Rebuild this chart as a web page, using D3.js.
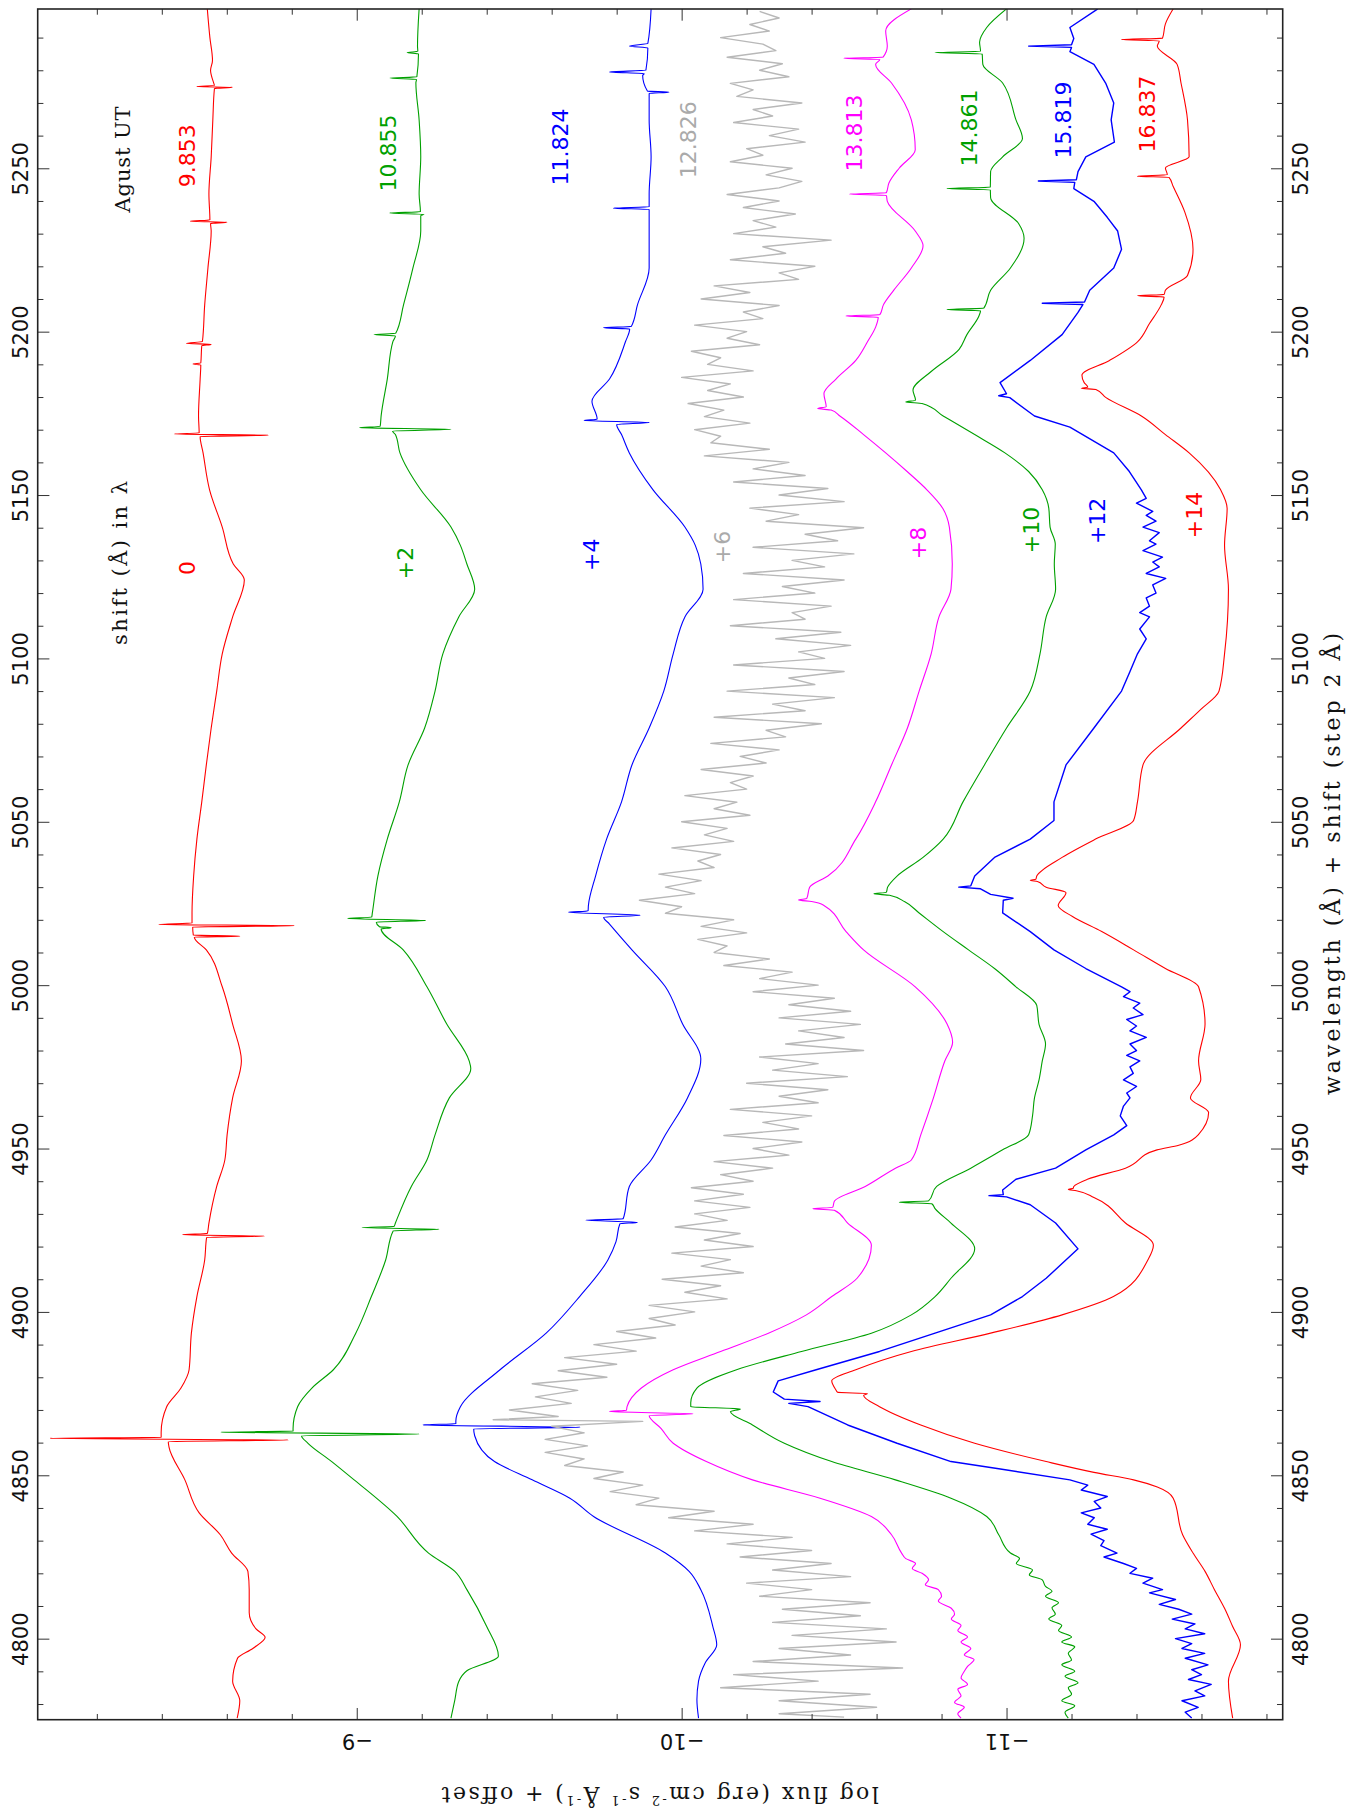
<!DOCTYPE html>
<html>
<head>
<meta charset="utf-8">
<script src="https://cdn.jsdelivr.net/npm/d3@7"></script>
<style>
  body { margin: 0; background: #fff; }
  svg { display: block; }
</style>
</head>
<body>
<svg id="chart" width="1360" height="1812"></svg>
<script>
// observation dates (August UT) and wavelength shifts, one per spectrum
const dates = ["9.853", "10.855", "11.824", "12.826", "13.813", "14.861", "15.819", "16.837"];
const shifts = ["0", "+2", "+4", "+6", "+8", "+10", "+12", "+14"];

// each spectrum: [wavelength + shift (A), log flux + offset]
const spec0 = [[5298.8,-8.540],[5290,-8.548],[5283,-8.556],[5280,-8.550],[5276.0,-8.560],[5275.3,-8.562],[5275.0,-8.508],[5274.8,-8.618],[5274.4,-8.562],[5264.8,-8.557],[5253.5,-8.552],[5242.1,-8.545],[5234.2,-8.548],[5233.8,-8.488],[5233.5,-8.601],[5233.1,-8.550],[5230.8,-8.552],[5219.5,-8.542],[5208.2,-8.532],[5197,-8.525],[5196.4,-8.476],[5196.1,-8.552],[5195.7,-8.523],[5190.4,-8.520],[5190.1,-8.496],[5189.8,-8.520],[5185.5,-8.518],[5174.2,-8.513],[5169.0,-8.515],[5168.7,-8.439],[5168.3,-8.728],[5167.9,-8.518],[5162.9,-8.527],[5151.6,-8.547],[5140.2,-8.586],[5128.9,-8.620],[5124.0,-8.654],[5112.7,-8.618],[5101.4,-8.586],[5090.0,-8.569],[5078.7,-8.552],[5067.4,-8.537],[5056.1,-8.523],[5044.7,-8.508],[5033.4,-8.498],[5022.1,-8.493],[5019.0,-8.493],[5018.6,-8.391],[5018.2,-8.808],[5017.8,-8.495],[5015.3,-8.497],[5015.0,-8.640],[5014.7,-8.500],[5010.8,-8.537],[4999.5,-8.586],[4988.1,-8.618],[4976.8,-8.645],[4965.5,-8.618],[4954.2,-8.601],[4946.5,-8.594],[4938.4,-8.569],[4927.2,-8.545],[4924.0,-8.540],[4923.6,-8.464],[4923.2,-8.716],[4922.8,-8.538],[4915.9,-8.532],[4904.7,-8.508],[4893.5,-8.491],[4882.3,-8.484],[4876.7,-8.459],[4871.0,-8.415],[4863.2,-8.398],[4861.6,-8.398],[4861.3,-8.056],[4860.8,-8.789],[4860.3,-8.420],[4858.7,-8.422],[4848.6,-8.471],[4838.5,-8.515],[4831.8,-8.580],[4826.2,-8.615],[4820.6,-8.665],[4815.0,-8.669],[4808.0,-8.669],[4803.0,-8.690],[4800.4,-8.718],[4797.0,-8.680],[4794.0,-8.633],[4787.0,-8.618],[4781.0,-8.640],[4775.7,-8.632]];

const spec2 = [[5298.8,-9.192],[5287.4,-9.187],[5285.8,-9.188],[5285.4,-9.155],[5285.0,-9.190],[5278.0,-9.185],[5277.6,-9.102],[5277.2,-9.184],[5276.1,-9.182],[5264.8,-9.192],[5253.5,-9.197],[5242.1,-9.192],[5236.7,-9.196],[5236.3,-9.102],[5235.9,-9.207],[5235.5,-9.197],[5230.8,-9.197],[5219.5,-9.173],[5208.2,-9.144],[5199.5,-9.120],[5199.1,-9.053],[5198.7,-9.119],[5196.9,-9.111],[5185.5,-9.094],[5174.2,-9.075],[5171.0,-9.072],[5170.6,-9.009],[5170.1,-9.290],[5169.6,-9.110],[5168.5,-9.119],[5162.9,-9.133],[5151.6,-9.197],[5140.2,-9.290],[5134.6,-9.319],[5128.9,-9.339],[5121.2,-9.363],[5112.7,-9.314],[5101.4,-9.265],[5090.0,-9.241],[5078.7,-9.209],[5067.4,-9.158],[5056.1,-9.131],[5044.7,-9.094],[5033.4,-9.065],[5022.1,-9.048],[5020.8,-9.046],[5020.4,-8.972],[5019.8,-9.212],[5019.3,-9.060],[5017.9,-9.070],[5017.6,-9.106],[5017.2,-9.075],[5010.8,-9.143],[4999.5,-9.216],[4988.1,-9.277],[4976.8,-9.346],[4974.5,-9.351],[4965.5,-9.285],[4954.2,-9.241],[4946.5,-9.216],[4938.4,-9.168],[4927.2,-9.119],[4926.2,-9.115],[4925.8,-9.016],[4925.3,-9.253],[4924.8,-9.112],[4915.9,-9.089],[4904.7,-9.045],[4893.5,-8.997],[4882.3,-8.928],[4876.7,-8.862],[4871.0,-8.818],[4864.3,-8.804],[4863.5,-8.804],[4863.2,-8.582],[4862.6,-9.192],[4862.1,-8.830],[4859.8,-8.850],[4854.2,-8.923],[4848.6,-8.992],[4837.4,-9.124],[4826.2,-9.221],[4820.6,-9.302],[4815.0,-9.339],[4803.7,-9.400],[4794.7,-9.436],[4790.2,-9.339],[4786.9,-9.314],[4781.3,-9.302],[4775.7,-9.290]];

const spec4 = [[5298.8,-9.906],[5288.2,-9.896],[5287.4,-9.839],[5286.8,-9.896],[5280,-9.890],[5279.5,-9.778],[5279.0,-9.885],[5278.4,-9.880],[5273.6,-9.895],[5273.3,-9.961],[5272.9,-9.900],[5264.8,-9.900],[5253.5,-9.906],[5242.1,-9.900],[5238.2,-9.900],[5237.8,-9.790],[5237.4,-9.900],[5230.8,-9.900],[5219.5,-9.900],[5208.2,-9.864],[5201.6,-9.845],[5201.2,-9.759],[5200.8,-9.840],[5196.9,-9.827],[5185.5,-9.778],[5178.7,-9.724],[5173.2,-9.740],[5172.8,-9.700],[5172.2,-9.900],[5171.6,-9.800],[5168.5,-9.815],[5162.9,-9.839],[5151.6,-9.912],[5140.2,-10.010],[5134.6,-10.042],[5128.9,-10.059],[5121.2,-10.066],[5112.7,-10.010],[5101.4,-9.974],[5090.0,-9.945],[5078.7,-9.900],[5067.4,-9.847],[5056.1,-9.815],[5044.7,-9.769],[5033.4,-9.735],[5024.4,-9.713],[5022.7,-9.712],[5022.3,-9.652],[5021.4,-9.872],[5020.8,-9.760],[5018.7,-9.778],[5010.8,-9.847],[4999.5,-9.950],[4988.1,-10.003],[4977.4,-10.059],[4965.5,-10.018],[4954.2,-9.950],[4946.5,-9.906],[4938.4,-9.839],[4928.5,-9.820],[4928.1,-9.705],[4927.4,-9.864],[4927.0,-9.810],[4921.5,-9.798],[4915.9,-9.773],[4904.7,-9.686],[4893.5,-9.583],[4882.3,-9.441],[4871.0,-9.319],[4866.6,-9.305],[4865.8,-9.305],[4865.4,-9.204],[4864.7,-9.688],[4864.2,-9.360],[4862.1,-9.363],[4854.2,-9.424],[4848.6,-9.540],[4843.0,-9.656],[4837.4,-9.729],[4826.2,-9.950],[4820.6,-10.023],[4815.0,-10.059],[4803.7,-10.096],[4798.1,-10.108],[4792.5,-10.072],[4787.0,-10.052],[4781.3,-10.047],[4775.7,-10.052]];

const spec6 = [[5298,-10.24],[5296,-10.30],[5294,-10.21],[5292,-10.27],[5290,-10.12],[5288,-10.25],[5286,-10.29],[5284,-10.14],[5282,-10.31],[5280,-10.24],[5278,-10.33],[5276,-10.15],[5274,-10.22],[5272,-10.17],[5270,-10.37],[5268,-10.22],[5266,-10.28],[5264,-10.16],[5262,-10.36],[5260,-10.27],[5258,-10.38],[5256,-10.20],[5254,-10.25],[5252,-10.15],[5250,-10.34],[5248,-10.26],[5246,-10.37],[5244,-10.30],[5242,-10.14],[5240,-10.30],[5238,-10.19],[5236,-10.35],[5234,-10.22],[5232,-10.29],[5230,-10.16],[5228,-10.46],[5226,-10.25],[5224,-10.32],[5222,-10.15],[5220,-10.41],[5218,-10.30],[5216,-10.36],[5214,-10.10],[5212,-10.21],[5210,-10.06],[5208,-10.30],[5206,-10.19],[5204,-10.25],[5202,-10.04],[5200,-10.20],[5198,-10.14],[5196,-10.24],[5194,-10.03],[5192,-10.12],[5190,-10.08],[5188,-10.22],[5186,-10.00],[5184,-10.15],[5182,-10.08],[5180,-10.19],[5178,-10.02],[5176,-10.13],[5174,-10.07],[5172,-10.21],[5170,-10.04],[5168,-10.12],[5166,-10.09],[5164,-10.27],[5162,-10.07],[5160,-10.33],[5158,-10.22],[5156,-10.38],[5154,-10.16],[5152,-10.45],[5150,-10.30],[5148,-10.50],[5146,-10.21],[5144,-10.36],[5142,-10.26],[5140,-10.56],[5138,-10.38],[5136,-10.48],[5134,-10.22],[5132,-10.53],[5130,-10.34],[5128,-10.44],[5126,-10.19],[5124,-10.50],[5122,-10.31],[5120,-10.41],[5118,-10.16],[5116,-10.46],[5114,-10.34],[5112,-10.38],[5110,-10.15],[5108,-10.49],[5106,-10.29],[5104,-10.52],[5102,-10.36],[5100,-10.44],[5098,-10.16],[5096,-10.50],[5094,-10.33],[5092,-10.41],[5090,-10.14],[5088,-10.47],[5086,-10.28],[5084,-10.38],[5082,-10.10],[5080,-10.43],[5078,-10.26],[5076,-10.32],[5074,-10.09],[5072,-10.30],[5070,-10.18],[5068,-10.26],[5066,-10.06],[5064,-10.22],[5062,-10.15],[5060,-10.20],[5058,-10.01],[5056,-10.17],[5054,-10.10],[5052,-10.21],[5050,-10.00],[5048,-10.14],[5046,-10.07],[5044,-10.16],[5042,-9.97],[5040,-10.12],[5038,-10.05],[5036,-10.10],[5034,-9.93],[5032,-10.06],[5030,-9.95],[5028,-10.04],[5026,-9.87],[5024,-10.00],[5022,-9.95],[5020,-10.16],[5018,-10.06],[5016,-10.20],[5014,-10.05],[5012,-10.14],[5010,-10.10],[5008,-10.27],[5006,-10.13],[5004,-10.34],[5002,-10.24],[5000,-10.42],[4998,-10.22],[4996,-10.47],[4994,-10.33],[4992,-10.52],[4990,-10.30],[4988,-10.55],[4986,-10.36],[4984,-10.50],[4982,-10.32],[4980,-10.56],[4978,-10.24],[4976,-10.42],[4974,-10.28],[4972,-10.51],[4970,-10.20],[4968,-10.45],[4966,-10.30],[4964,-10.42],[4962,-10.15],[4960,-10.40],[4958,-10.25],[4956,-10.36],[4954,-10.13],[4952,-10.37],[4950,-10.22],[4948,-10.33],[4946,-10.10],[4944,-10.28],[4942,-10.12],[4940,-10.22],[4938,-10.03],[4936,-10.19],[4934,-10.04],[4932,-10.21],[4930,-10.04],[4928,-10.14],[4926,-9.98],[4924,-10.18],[4922,-10.07],[4920,-10.22],[4918,-9.97],[4916,-10.15],[4914,-10.06],[4912,-10.19],[4910,-9.94],[4908,-10.12],[4906,-10.01],[4904,-10.14],[4902,-9.90],[4900,-10.04],[4898,-9.90],[4896,-9.98],[4894,-9.80],[4892,-9.92],[4890,-9.73],[4888,-9.86],[4886,-9.64],[4884,-9.80],[4882,-9.62],[4880,-9.77],[4878,-9.54],[4876,-9.68],[4874,-9.55],[4872,-9.66],[4870,-9.47],[4868,-9.62],[4867,-9.42],[4866.5,-9.88],[4865,-9.60],[4863,-9.70],[4861,-9.58],[4859,-9.71],[4857,-9.58],[4855,-9.70],[4853,-9.64],[4851,-9.82],[4849,-9.73],[4847,-9.88],[4845,-9.78],[4843,-9.93],[4841,-9.86],[4839,-10.10],[4837,-9.96],[4835,-10.22],[4833,-10.04],[4831,-10.34],[4829,-10.14],[4827,-10.40],[4825,-10.18],[4823,-10.46],[4821,-10.28],[4819,-10.52],[4817,-10.20],[4815,-10.40],[4813,-10.24],[4811,-10.58],[4809,-10.31],[4807,-10.55],[4805,-10.28],[4803,-10.63],[4801,-10.34],[4799,-10.66],[4797,-10.30],[4795,-10.52],[4793,-10.22],[4791,-10.68],[4789,-10.16],[4787,-10.42],[4785,-10.12],[4783,-10.58],[4781,-10.30],[4779,-10.60],[4777,-10.30],[4776,-10.50]];

const spec8 = [[5298.8,-10.707],[5292.0,-10.628],[5287.4,-10.633],[5284.0,-10.620],[5283.7,-10.499],[5283.3,-10.610],[5281.8,-10.597],[5276.1,-10.646],[5264.8,-10.707],[5255.7,-10.719],[5250.1,-10.670],[5245.5,-10.638],[5242.5,-10.630],[5242.1,-10.516],[5241.7,-10.630],[5239.9,-10.633],[5230.8,-10.719],[5226.3,-10.743],[5219.5,-10.707],[5212.7,-10.653],[5208.2,-10.621],[5205.2,-10.610],[5204.8,-10.506],[5204.4,-10.605],[5201.4,-10.597],[5196.9,-10.572],[5191.2,-10.536],[5185.5,-10.475],[5181.0,-10.438],[5177.0,-10.445],[5176.5,-10.419],[5176.0,-10.460],[5174.2,-10.487],[5168.5,-10.560],[5162.9,-10.628],[5157.2,-10.694],[5151.6,-10.755],[5145.9,-10.804],[5140.2,-10.824],[5128.9,-10.833],[5121.2,-10.829],[5112.7,-10.792],[5101.4,-10.768],[5090.0,-10.731],[5078.7,-10.695],[5067.4,-10.646],[5056.1,-10.597],[5044.7,-10.536],[5033.4,-10.450],[5030.0,-10.394],[5026.5,-10.385],[5026.1,-10.360],[5025.6,-10.400],[5024.4,-10.438],[5016.4,-10.506],[5010.8,-10.560],[4999.5,-10.719],[4988.1,-10.817],[4982.5,-10.834],[4976.8,-10.810],[4965.5,-10.775],[4954.2,-10.736],[4946.5,-10.707],[4944.0,-10.658],[4938.4,-10.565],[4933.9,-10.470],[4932.0,-10.465],[4931.6,-10.404],[4931.1,-10.470],[4927.2,-10.511],[4920.4,-10.584],[4910.3,-10.540],[4904.7,-10.462],[4899.1,-10.384],[4893.5,-10.267],[4887.9,-10.120],[4882.3,-9.974],[4876.7,-9.876],[4871.0,-9.832],[4869.9,-9.830],[4869.5,-9.778],[4868.8,-10.035],[4868.3,-9.900],[4864.3,-9.937],[4859.8,-9.974],[4854.2,-10.076],[4848.6,-10.218],[4843.0,-10.426],[4837.4,-10.584],[4831.8,-10.646],[4826.2,-10.677],[4824.5,-10.69],[4823,-10.72],[4821.5,-10.71],[4820,-10.74],[4818,-10.76],[4816.5,-10.75],[4815,-10.79],[4813,-10.80],[4811.5,-10.79],[4809.3,-10.83],[4807.5,-10.84],[4806,-10.83],[4804,-10.86],[4802.5,-10.85],[4800.5,-10.88],[4799,-10.86],[4797,-10.89],[4795,-10.87],[4793.6,-10.90],[4791.5,-10.88],[4790,-10.87],[4788,-10.86],[4786,-10.88],[4784.5,-10.85],[4782.5,-10.86],[4780.5,-10.84],[4779,-10.87],[4777,-10.85],[4775.7,-10.86]];

const spec10 = [[5298.8,-11.000],[5293.1,-10.939],[5288.6,-10.917],[5285.8,-10.920],[5285.4,-10.780],[5285.0,-10.925],[5281.8,-10.927],[5276.1,-10.988],[5264.8,-11.029],[5259.1,-11.049],[5253.5,-10.988],[5249.0,-10.951],[5244.2,-10.950],[5243.8,-10.817],[5243.4,-10.950],[5241.0,-10.951],[5233.1,-11.037],[5228.6,-11.054],[5219.5,-11.012],[5212.7,-10.951],[5207.2,-10.930],[5206.8,-10.817],[5206.4,-10.920],[5204.8,-10.915],[5199.1,-10.878],[5194.6,-10.854],[5187.8,-10.768],[5182.1,-10.712],[5179.0,-10.720],[5178.5,-10.690],[5178.0,-10.740],[5174.2,-10.805],[5168.5,-10.902],[5162.9,-10.995],[5157.2,-11.068],[5151.6,-11.110],[5146,-11.13],[5140.2,-11.134],[5135,-11.15],[5128.9,-11.147],[5121.2,-11.151],[5112.7,-11.122],[5101.4,-11.103],[5090.0,-11.073],[5078.7,-11.000],[5067.4,-10.932],[5056.1,-10.866],[5044.7,-10.805],[5039.1,-10.743],[5033.4,-10.663],[5030.0,-10.634],[5028.4,-10.630],[5028.0,-10.592],[5027.5,-10.640],[5025.5,-10.687],[5022.1,-10.731],[5016.4,-10.805],[5010.8,-10.883],[5005.1,-10.963],[4999.5,-11.029],[4993.8,-11.093],[4988,-11.10],[4982,-11.12],[4976.8,-11.110],[4971,-11.10],[4965.5,-11.086],[4960,-11.08],[4954.2,-11.068],[4949.6,-10.988],[4944.0,-10.890],[4938.4,-10.785],[4934.0,-10.760],[4933.6,-10.670],[4933.1,-10.770],[4931.6,-10.780],[4927.2,-10.829],[4919.3,-10.902],[4910.3,-10.829],[4904.7,-10.780],[4899.1,-10.707],[4893.5,-10.584],[4887.9,-10.369],[4882.3,-10.169],[4876.7,-10.047],[4872.2,-10.028],[4871.0,-10.028],[4870.3,-10.181],[4869.5,-10.150],[4865.4,-10.218],[4859.8,-10.316],[4854.2,-10.462],[4848.6,-10.658],[4843.0,-10.829],[4837.4,-10.939],[4831.8,-10.976],[4826.2,-11.012],[4824.5,-11.04],[4823,-11.03],[4821,-11.08],[4819.5,-11.07],[4818,-11.11],[4816,-11.12],[4814.5,-11.14],[4813,-11.12],[4811,-11.16],[4809.5,-11.14],[4807.5,-11.15],[4806,-11.13],[4804,-11.17],[4802.5,-11.16],[4800.5,-11.20],[4799,-11.17],[4797.5,-11.21],[4795.5,-11.19],[4793.5,-11.20],[4792,-11.17],[4790,-11.21],[4788.5,-11.18],[4786.5,-11.22],[4785,-11.19],[4783,-11.20],[4781,-11.17],[4779.5,-11.21],[4777.5,-11.18],[4775.7,-11.19]];

const spec12 = [[5298.8,-11.281],[5293.1,-11.195],[5289.7,-11.207],[5287.8,-11.200],[5287.4,-11.068],[5287.0,-11.200],[5285.7,-11.195],[5281.8,-11.269],[5276.1,-11.305],[5270,-11.33],[5264.8,-11.322],[5258.0,-11.332],[5253.5,-11.244],[5249.0,-11.220],[5246.5,-11.215],[5246.1,-11.098],[5245.7,-11.210],[5243.8,-11.207],[5239.9,-11.269],[5235,-11.31],[5230.8,-11.342],[5225.2,-11.354],[5219.5,-11.330],[5212.7,-11.256],[5209.1,-11.240],[5208.7,-11.110],[5208.3,-11.235],[5205.9,-11.220],[5199.1,-11.171],[5191.2,-11.073],[5184.4,-10.980],[5181.0,-11.000],[5180.4,-10.976],[5179.8,-11.010],[5174.2,-11.086],[5170.8,-11.195],[5162.9,-11.330],[5157.2,-11.378],[5151.6,-11.415],[5149,-11.43],[5147.5,-11.40],[5145,-11.45],[5143.8,-11.43],[5142,-11.46],[5140.2,-11.42],[5138.5,-11.47],[5136,-11.44],[5135,-11.46],[5133,-11.42],[5131,-11.48],[5129.5,-11.45],[5128,-11.47],[5126,-11.43],[5124.5,-11.49],[5122.5,-11.45],[5120,-11.46],[5118.5,-11.43],[5116,-11.44],[5114,-11.41],[5112.7,-11.44],[5109,-11.41],[5106,-11.43],[5101.4,-11.403],[5096,-11.38],[5090.0,-11.354],[5078.7,-11.269],[5067.4,-11.183],[5056.1,-11.146],[5050.4,-11.146],[5044.7,-11.073],[5039.1,-10.963],[5033.4,-10.902],[5030.4,-10.890],[5030.0,-10.853],[5029.5,-10.920],[5027.8,-10.951],[5026.6,-11.020],[5026.0,-10.990],[5022.1,-10.988],[5016.4,-11.073],[5010.8,-11.146],[5005.1,-11.244],[4999.5,-11.354],[4998,-11.38],[4996.5,-11.36],[4994.5,-11.41],[4993,-11.39],[4991,-11.42],[4989.5,-11.37],[4987.5,-11.40],[4986,-11.38],[4984,-11.43],[4982,-11.38],[4980,-11.40],[4978.5,-11.37],[4976.8,-11.41],[4975,-11.38],[4973,-11.39],[4971,-11.36],[4969,-11.40],[4967,-11.37],[4965.5,-11.38],[4963,-11.36],[4960,-11.35],[4957,-11.37],[4954.2,-11.33],[4949.6,-11.244],[4944.0,-11.151],[4940.6,-11.029],[4937.3,-10.988],[4935.9,-10.990],[4935.6,-10.946],[4935.2,-11.000],[4932.8,-11.073],[4927.2,-11.151],[4919.3,-11.220],[4910.3,-11.122],[4904.7,-11.049],[4899.1,-10.951],[4893.5,-10.780],[4887.9,-10.609],[4882.3,-10.414],[4878.9,-10.297],[4875.5,-10.282],[4873.3,-10.316],[4872.6,-10.426],[4872.0,-10.330],[4871.0,-10.389],[4865.4,-10.511],[4859.8,-10.663],[4854.2,-10.829],[4852.0,-10.976],[4848.6,-11.195],[4847,-11.25],[4845.5,-11.23],[4843.5,-11.31],[4842,-11.27],[4840,-11.29],[4838.5,-11.23],[4837,-11.27],[4835,-11.25],[4833.5,-11.31],[4832,-11.26],[4830,-11.30],[4828.5,-11.29],[4826.2,-11.34],[4825,-11.30],[4823,-11.36],[4821.5,-11.40],[4820,-11.38],[4818.5,-11.45],[4817,-11.42],[4815,-11.48],[4814,-11.44],[4812,-11.52],[4810.5,-11.47],[4809,-11.53],[4807.5,-11.57],[4806,-11.51],[4804.5,-11.58],[4803,-11.55],[4801.5,-11.61],[4800,-11.52],[4798.5,-11.57],[4797,-11.54],[4795.5,-11.61],[4794,-11.55],[4792,-11.62],[4790.5,-11.57],[4789,-11.60],[4787.5,-11.56],[4786,-11.63],[4784,-11.58],[4782.5,-11.61],[4781,-11.54],[4779,-11.59],[4777.5,-11.55],[4775.7,-11.57]];

const spec14 = [[5298.8,-11.513],[5294.2,-11.489],[5289.8,-11.480],[5289.4,-11.354],[5289.0,-11.470],[5287.4,-11.464],[5281.8,-11.525],[5276.1,-11.537],[5264.8,-11.557],[5253.5,-11.562],[5250.1,-11.489],[5248.0,-11.495],[5247.6,-11.403],[5247.2,-11.500],[5244.4,-11.513],[5236.5,-11.549],[5225.2,-11.574],[5217.2,-11.557],[5212.7,-11.489],[5211.4,-11.485],[5211.0,-11.403],[5210.6,-11.485],[5208.2,-11.476],[5202.5,-11.440],[5196.9,-11.403],[5191.2,-11.317],[5186.7,-11.232],[5184.4,-11.239],[5183.0,-11.250],[5182.7,-11.230],[5182.3,-11.275],[5179.9,-11.305],[5174.2,-11.415],[5168.5,-11.489],[5162.9,-11.562],[5151.6,-11.659],[5145.9,-11.679],[5134.6,-11.671],[5121.2,-11.683],[5101.4,-11.671],[5090.0,-11.654],[5084.4,-11.598],[5078.7,-11.537],[5067.4,-11.420],[5056.1,-11.403],[5050.4,-11.391],[5044.7,-11.274],[5039.1,-11.171],[5033.4,-11.093],[5032.4,-11.090],[5032.1,-11.073],[5031.7,-11.095],[5030.0,-11.122],[5028.3,-11.183],[5024.4,-11.159],[5021.0,-11.203],[5016.4,-11.293],[5010.8,-11.391],[5005.1,-11.489],[4999.5,-11.591],[4988.1,-11.611],[4976.8,-11.591],[4971.1,-11.598],[4965.5,-11.566],[4961.0,-11.622],[4954.2,-11.590],[4951.0,-11.530],[4949.6,-11.463],[4944.0,-11.366],[4940.6,-11.249],[4938.4,-11.207],[4937.8,-11.205],[4937.5,-11.190],[4937.1,-11.215],[4935.0,-11.269],[4927.2,-11.366],[4920.4,-11.452],[4915.9,-11.435],[4904.7,-11.329],[4899.1,-11.171],[4893.5,-10.951],[4887.9,-10.707],[4882.3,-10.536],[4878.9,-10.462],[4876.1,-10.475],[4875.4,-10.480],[4875.0,-10.572],[4874.5,-10.560],[4871.0,-10.609],[4865.4,-10.736],[4859.8,-10.902],[4854.2,-11.122],[4850.9,-11.269],[4848.6,-11.391],[4846.4,-11.464],[4843.0,-11.513],[4831.8,-11.542],[4826.2,-11.574],[4820.6,-11.611],[4815.0,-11.640],[4809.3,-11.671],[4803.7,-11.696],[4798.1,-11.720],[4787.0,-11.683],[4775.7,-11.696]];

const spectra = [spec0, spec2, spec4, spec6, spec8, spec10, spec12, spec14];
const colors = ["#ff0000", "#00a000", "#0000ff", "#b8b8b8", "#ff00ff", "#00a000", "#0000ff", "#ff0000"];

// label anchors in data units [log flux, wavelength]
const dateAt = [[-8.478,5253.8],[-9.099,5254.7],[-9.626,5256.5],[-10.022,5258.7],[-10.531,5260.8],[-10.885,5262.3],[-11.176,5264.8],[-11.435,5266.6]];
const shiftAt = [[-8.478,5127.7],[-9.149,5129.2],[-9.724,5131.7],[-10.127,5134.1],[-10.730,5135.3],[-11.078,5139.3],[-11.281,5142.1],[-11.580,5143.9]];

const wlMajor = d3.range(4800, 5251, 50);
const wlMinor = d3.range(4780, 5299, 10).filter(d => d % 50 !== 0);
const fxMajor = [-9, -10, -11];
const fxMinor = d3.range(-82, -119, -2).map(d => d / 10).filter(d => !Number.isInteger(d));

// plot frame
const frame = { left: 37.7, right: 1282.7, top: 9, bottom: 1719.7 };

const x = d3.scaleLinear().domain([-8.018, -11.85]).range([frame.left, frame.right]);
const y = d3.scaleLinear().domain([4775.2, 5298.75]).range([frame.bottom, frame.top]);

const svg = d3.select("#chart");
const numFont = "'DejaVu Sans', sans-serif";
const serFont = "'DejaVu Serif', 'Liberation Serif', serif";

svg.append("defs").append("clipPath").attr("id", "clip")
  .append("rect")
  .attr("x", frame.left).attr("y", frame.top)
  .attr("width", frame.right - frame.left).attr("height", frame.bottom - frame.top);

// spectra: the noisy gray and blue ones keep straight segments
const smooth = d3.line().curve(d3.curveMonotoneY).x(d => x(d[1])).y(d => y(d[0]));
const jagged = d3.line().x(d => x(d[1])).y(d => y(d[0]));
svg.append("g").attr("clip-path", "url(#clip)")
  .selectAll("path")
  .data(spectra)
  .join("path")
  .attr("d", (d, i) => (i === 3 || i === 6 ? jagged(d) : smooth(d)))
  .attr("fill", "none")
  .attr("stroke", (d, i) => colors[i])
  .attr("stroke-width", (d, i) => (i === 3 ? 1.4 : i === 6 ? 1.4 : 1.1))
  .attr("stroke-linejoin", "round");

// ticks on all four sides, pointing inwards
const addAxis = (axis, tx, ty) =>
  svg.append("g")
    .attr("transform", `translate(${tx},${ty})`)
    .call(axis)
    .attr("color", "#333")
    .attr("font-family", numFont)
    .attr("font-size", 21)
    .call(g => g.select(".domain").remove());

addAxis(d3.axisLeft(y).tickValues(wlMinor).tickSize(-5.7).tickFormat(""), frame.left, 0);
addAxis(d3.axisRight(y).tickValues(wlMinor).tickSize(-5.7).tickFormat(""), frame.right, 0);
addAxis(d3.axisTop(x).tickValues(fxMinor).tickSize(-5.7).tickFormat(""), 0, frame.top);
addAxis(d3.axisBottom(x).tickValues(fxMinor).tickSize(-5.7).tickFormat(""), 0, frame.bottom);
addAxis(d3.axisTop(x).tickValues(fxMajor).tickSize(-11.7).tickFormat(""), 0, frame.top);

addAxis(d3.axisLeft(y).tickValues(wlMajor).tickSize(-11.7).tickFormat(d3.format("d")), frame.left, 0)
  .selectAll("text")
  .attr("x", null).attr("dy", null)
  .attr("fill", "#111")
  .attr("text-anchor", "middle")
  .attr("dominant-baseline", "central")
  .attr("transform", "translate(-17,0) rotate(-90)");

addAxis(d3.axisRight(y).tickValues(wlMajor).tickSize(-11.7).tickFormat(d3.format("d")), frame.right, 0)
  .selectAll("text")
  .attr("x", null).attr("dy", null)
  .attr("fill", "#111")
  .attr("text-anchor", "middle")
  .attr("dominant-baseline", "central")
  .attr("transform", "translate(18.5,0) rotate(-90)");

addAxis(d3.axisBottom(x).tickValues(fxMajor).tickSize(-11.7).tickFormat(d3.format("d")), 0, frame.bottom)
  .selectAll("text")
  .attr("y", null).attr("dy", null)
  .attr("fill", "#111")
  .attr("text-anchor", "middle")
  .attr("dominant-baseline", "central")
  .attr("transform", "translate(0,21.5) rotate(180)");

svg.append("rect")
  .attr("x", frame.left).attr("y", frame.top)
  .attr("width", frame.right - frame.left).attr("height", frame.bottom - frame.top)
  .attr("fill", "none").attr("stroke", "#222").attr("stroke-width", 1.6);

// rotated text helper
const vtext = (cx, cy, angle, str, font, size, fill) =>
  svg.append("text")
    .attr("transform", `translate(${cx},${cy}) rotate(${angle})`)
    .attr("text-anchor", "middle")
    .attr("dominant-baseline", "central")
    .attr("font-family", font)
    .attr("font-size", size)
    .attr("fill", fill)
    .text(str);

dates.forEach((d, i) =>
  vtext(x(dateAt[i][0]), y(dateAt[i][1]), -90, d, numFont, 22, i === 3 ? "#aaaaaa" : colors[i]));
shifts.forEach((d, i) =>
  vtext(x(shiftAt[i][0]), y(shiftAt[i][1]), -90, d, numFont, 22, i === 3 ? "#aaaaaa" : colors[i]));

vtext(123, 159.5, -90, "Agust UT", serFont, 21, "#111").attr("textLength", 106).attr("lengthAdjust", "spacing");
vtext(120, 563, -90, "shift (Å) in λ", serFont, 21, "#111").attr("textLength", 164).attr("lengthAdjust", "spacing");

// axis titles
vtext(1332, 864, -90, "wavelength (Å) + shift (step 2 Å)", serFont, 22, "#111")
  .attr("textLength", 462).attr("lengthAdjust", "spacing");

const yl = svg.append("text")
  .attr("transform", `translate(${(frame.left + frame.right) / 2},1795) rotate(180)`)
  .attr("text-anchor", "middle")
  .attr("dominant-baseline", "central")
  .attr("font-family", serFont)
  .attr("font-size", 22)
  .attr("fill", "#111")
  .attr("textLength", 437)
  .attr("lengthAdjust", "spacing");
yl.append("tspan").text("log flux (erg cm");
yl.append("tspan").attr("font-size", 13).attr("baseline-shift", "40%").text("-2");
yl.append("tspan").text(" s");
yl.append("tspan").attr("font-size", 13).attr("baseline-shift", "40%").text("-1");
yl.append("tspan").text(" Å");
yl.append("tspan").attr("font-size", 13).attr("baseline-shift", "40%").text("-1");
yl.append("tspan").text(") + offset");
</script>
</body>
</html>
